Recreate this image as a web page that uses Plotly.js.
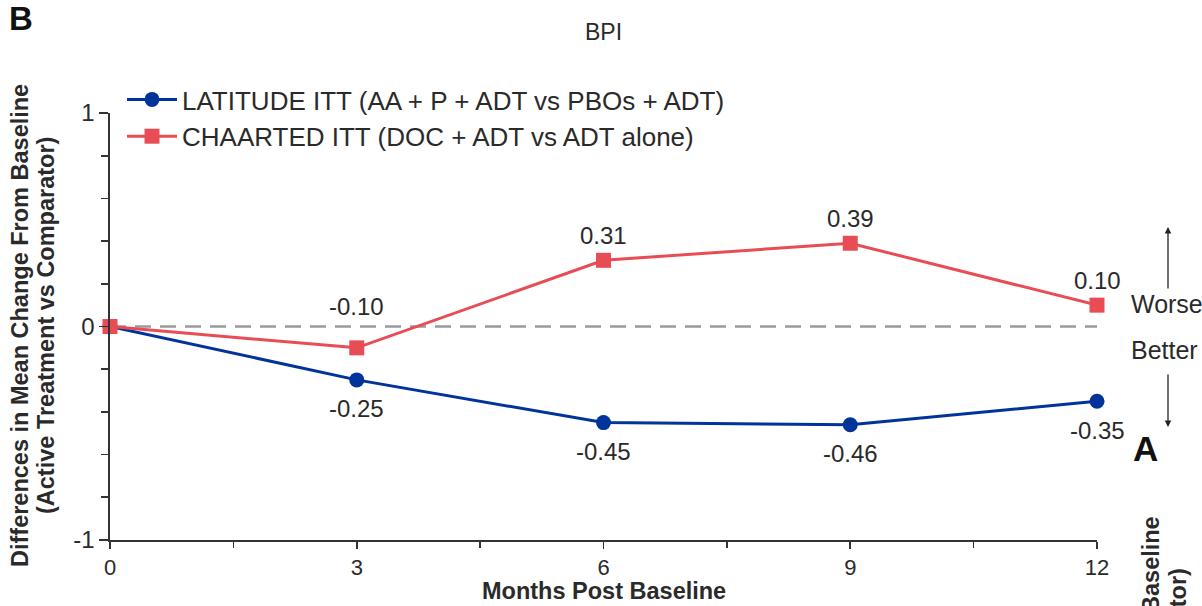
<!DOCTYPE html>
<html>
<head>
<meta charset="utf-8">
<script src="https://cdn.plot.ly/plotly-3.0.1.min.js"></script>
<style>html,body{margin:0;padding:0;background:#fff;}#chart{width:1202px;height:606px;}</style>
</head>
<body>
<div id="chart"></div>
<script>
// Data
const months = [0, 3, 6, 9, 12];
const latitudeValues = [0, -0.25, -0.45, -0.46, -0.35];
const chaartedValues = [0, -0.10, 0.31, 0.39, 0.10];
const latitudeName = 'LATITUDE ITT (AA + P + ADT vs PBOs + ADT)';
const chaartedName = 'CHAARTED ITT (DOC + ADT vs ADT alone)';
const yTickValues = [-1, 0, 1];
const xTickValues = [0, 3, 6, 9, 12];
const yTitleLines = ['Differences in Mean Change From Baseline', '(Active Treatment vs Comparator)'];

const W = 1202, H = 606;
const L = 110, R = 1097, T = 113, B = 540;
const px = x => (x - L) / (R - L);
const py = y => (B - y) / (B - T);

const FONT = 'Liberation Sans, Arial, sans-serif';
const TXT = '#2a2a2a';
const BLUE = '#00349a';
const RED = '#e84c55';

const traces = [
  {
    x: months, y: latitudeValues, name: latitudeName, type: 'scatter', mode: 'lines+markers',
    line: {color: BLUE, width: 3}, marker: {symbol: 'circle', size: 15, color: BLUE},
    cliponaxis: false
  },
  {
    x: months, y: chaartedValues, name: chaartedName, type: 'scatter', mode: 'lines+markers',
    line: {color: RED, width: 3}, marker: {symbol: 'square', size: 15, color: RED},
    cliponaxis: false
  }
];

const annotations = [];
// data labels
months.forEach((m, i) => {
  if (i === 0) return;
  annotations.push({
    x: m, y: latitudeValues[i], xref: 'x', yref: 'y', showarrow: false,
    text: latitudeValues[i].toFixed(2), yshift: -29,
    font: {family: FONT, size: 24, color: TXT}
  });
  annotations.push({
    x: m, y: chaartedValues[i], xref: 'x', yref: 'y', showarrow: false,
    text: chaartedValues[i].toFixed(2), yshift: chaartedValues[i] < 0 ? 41 : 25,
    font: {family: FONT, size: 24, color: TXT}
  });
});
// panel letter
annotations.push({x: px(7), y: py(19), xref: 'paper', yref: 'paper', xanchor: 'left', yanchor: 'middle',
  showarrow: false, text: '<b>B</b>', font: {family: FONT, size: 33, color: '#111'}});
// y axis title (two lines)
[20, 46].forEach((cx, k) => {
  annotations.push({x: px(cx), y: py(326), xref: 'paper', yref: 'paper', xanchor: 'center', yanchor: 'middle',
    showarrow: false, textangle: -90, text: '<b>' + yTitleLines[k] + '</b>',
    font: {family: FONT, size: 23.5, color: TXT}});
});
// x axis title
annotations.push({x: px(604), y: py(591), xref: 'paper', yref: 'paper', xanchor: 'center', yanchor: 'middle',
  showarrow: false, text: '<b>Months Post Baseline</b>', font: {family: FONT, size: 23.5, color: TXT}});
// Worse / Better
annotations.push({x: px(1129), y: py(304), xref: 'paper', yref: 'paper', xanchor: 'left', yanchor: 'middle',
  showarrow: false, text: 'Worse', font: {family: FONT, size: 25, color: TXT}});
annotations.push({x: px(1129), y: py(350), xref: 'paper', yref: 'paper', xanchor: 'left', yanchor: 'middle',
  showarrow: false, text: 'Better', font: {family: FONT, size: 25, color: TXT}});
// arrows
annotations.push({x: px(1168), y: py(227), ax: px(1168), ay: py(290), xref: 'paper', yref: 'paper',
  axref: 'paper', ayref: 'paper', showarrow: true, arrowhead: 2, arrowsize: 1, arrowwidth: 1.3,
  arrowcolor: '#222', text: ''});
annotations.push({x: px(1168), y: py(427), ax: px(1168), ay: py(373), xref: 'paper', yref: 'paper',
  axref: 'paper', ayref: 'paper', showarrow: true, arrowhead: 2, arrowsize: 1, arrowwidth: 1.3,
  arrowcolor: '#222', text: ''});
// cut-off neighbouring panel
annotations.push({x: px(1131), y: py(448), xref: 'paper', yref: 'paper', xanchor: 'left', yanchor: 'middle',
  showarrow: false, text: '<b>A</b>', font: {family: FONT, size: 35, color: '#111'}});
[[1150, 515], [1177, 567]].forEach((p, k) => {
  annotations.push({x: px(p[0]), y: py(p[1]), xref: 'paper', yref: 'paper', xanchor: 'center', yanchor: 'top',
    showarrow: false, textangle: -90, text: '<b>' + yTitleLines[k] + '</b>',
    font: {family: FONT, size: 23.5, color: TXT}});
});

const layout = {
  width: W, height: H,
  margin: {l: L, r: W - R, t: T, b: H - B},
  paper_bgcolor: '#fff', plot_bgcolor: '#fff',
  font: {family: FONT, color: TXT},
  title: {text: 'BPI', x: 0.5, xref: 'paper', y: 1 - 32 / H, yanchor: 'middle',
    font: {family: FONT, size: 23, color: TXT}},
  showlegend: true,
  legend: {x: px(122), y: py(76), xanchor: 'left', yanchor: 'top', bgcolor: 'rgba(0,0,0,0)',
    font: {family: FONT, size: 26, color: TXT}, tracegroupgap: 0, itemwidth: 50},
  xaxis: {
    range: [0, 12], tickvals: xTickValues, ticktext: xTickValues.map(String),
    showgrid: false, zeroline: false, showline: true, linecolor: '#333', linewidth: 1.6,
    ticks: 'outside', ticklen: 7, tickwidth: 1.6, tickcolor: '#333',
    tickfont: {family: FONT, size: 22, color: TXT},
    minor: {dtick: 1.5, tick0: 0, ticks: 'outside', ticklen: 6, tickwidth: 1.6, tickcolor: '#333', showgrid: false}
  },
  yaxis: {
    range: [-1, 1], tickvals: yTickValues, ticktext: yTickValues.map(String),
    showgrid: false, zeroline: false, showline: true, linecolor: '#333', linewidth: 1.6,
    ticks: 'outside', ticklen: 9, tickwidth: 1.6, tickcolor: '#333',
    tickfont: {family: FONT, size: 24, color: TXT},
    minor: {dtick: 0.2, tick0: 0, ticks: 'outside', ticklen: 7, tickwidth: 1.6, tickcolor: '#333', showgrid: false}
  },
  shapes: [
    {type: 'line', xref: 'x', yref: 'y', x0: 0, x1: 12, y0: 0, y1: 0,
      line: {color: '#9a9a9a', width: 2.5, dash: '16px,9px'}, layer: 'below'}
  ],
  annotations: annotations
};

Plotly.newPlot('chart', traces, layout, {displayModeBar: false, staticPlot: true});
</script>
</body>
</html>
